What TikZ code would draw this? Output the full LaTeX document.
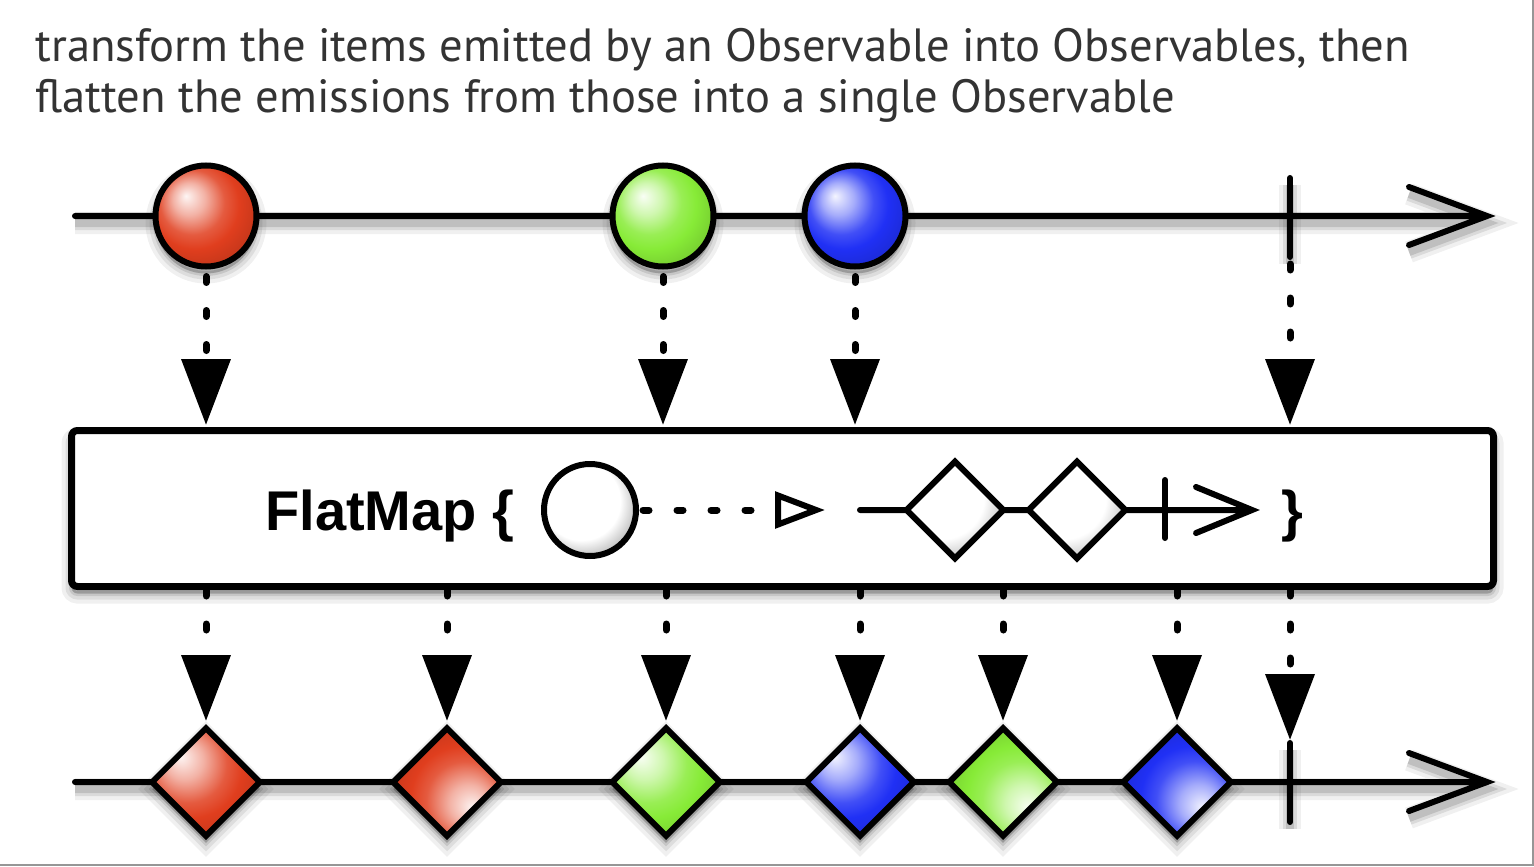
\documentclass[tikz,border=0pt]{standalone}
\usepackage{fontspec}
\setmainfont{PT Sans}
\newfontfamily\boldsans{Liberation Sans}
\usetikzlibrary{arrows.meta,shapes.geometric,calc}

\definecolor{ired}{RGB}{224,62,30}
\definecolor{igreen}{RGB}{135,235,55}
\definecolor{iblue}{RGB}{32,48,245}
\definecolor{ttext}{RGB}{51,51,51}
\definecolor{frame}{RGB}{150,150,150}
\colorlet{itemc}{red}

\pgfdeclareradialshading[itemc]{ballhl}{\pgfpoint{-10bp}{10bp}}{color(0bp)=(itemc!5!white); color(8bp)=(itemc!40!white); color(16bp)=(itemc!85!white); color(22bp)=(itemc); color(30bp)=(itemc!88!black); color(38bp)=(itemc!62!black); color(50bp)=(itemc!62!black)}
\pgfdeclareradialshading[itemc]{diahlTL}{\pgfpoint{-12bp}{12bp}}{color(0bp)=(itemc!5!white); color(9bp)=(itemc!40!white); color(18bp)=(itemc!85!white); color(24bp)=(itemc); color(33bp)=(itemc!88!black); color(40bp)=(itemc!62!black); color(60bp)=(itemc!62!black)}
\pgfdeclareradialshading[itemc]{diahlBR}{\pgfpoint{12bp}{-12bp}}{color(0bp)=(itemc!5!white); color(9bp)=(itemc!40!white); color(18bp)=(itemc!85!white); color(24bp)=(itemc); color(33bp)=(itemc!88!black); color(40bp)=(itemc!62!black); color(60bp)=(itemc!62!black)}
\pgfdeclareradialshading{grayball}{\pgfpoint{-8bp}{8bp}}{color(0bp)=(white); color(21bp)=(white); color(30bp)=(black!28); color(36bp)=(black!50); color(50bp)=(black!50)}
\pgfdeclareradialshading{graydia}{\pgfpoint{-11bp}{11bp}}{color(0bp)=(white); color(22bp)=(white); color(30bp)=(black!20); color(36bp)=(black!45); color(60bp)=(black!45)}

\tikzset{
  itemcol/.code={\colorlet{itemc}{#1}},
  thick line/.style={line width=3pt, line cap=round, line join=miter},
  lshad/.style={
    preaction={draw=black, draw opacity=0.06, line width=11pt, transform canvas={yshift=-3.5pt}},
    preaction={draw=black, draw opacity=0.09, line width=7pt, transform canvas={yshift=-3.5pt}},
    preaction={draw=black, draw opacity=0.12, line width=4pt, transform canvas={yshift=-3.5pt}}},
  nshad/.style={
    preaction={fill=black, fill opacity=0.06, draw=black, draw opacity=0.06, line width=10pt, transform canvas={yshift=-3.5pt}},
    preaction={fill=black, fill opacity=0.08, draw=black, draw opacity=0.08, line width=6pt, transform canvas={yshift=-3.5pt}},
    preaction={fill=black, fill opacity=0.1, draw=black, draw opacity=0.1, line width=2.5pt, transform canvas={yshift=-3.5pt}}},
  ball/.style={circle, draw, line width=3pt, minimum size=50.5pt, inner sep=0pt,
    shade, shading=ballhl, itemcol=#1, nshad},
  diamTL/.style={diamond, aspect=1, draw, line width=3pt, minimum size=55pt, inner sep=0pt,
    shade, shading=diahlTL, itemcol=#1, nshad},
  diamBR/.style={diamond, aspect=1, draw, line width=3pt, minimum size=55pt, inner sep=0pt,
    shade, shading=diahlBR, itemcol=#1, nshad},
  innerdia/.style={diamond, aspect=1, draw, line width=3pt, minimum size=49.7pt, inner sep=0pt,
    shade, shading=graydia},
  dotarr/.style={line width=3.5pt, line cap=round, dash pattern=on 3pt off 14pt,
    -{Triangle[length=33pt,width=24pt]}},
  titletext/.style={anchor=base west, inner sep=0pt, text=ttext, font=\fontsize{23.3pt}{27pt}\selectfont},
  boxtext/.style={anchor=base west, inner sep=0pt, font=\boldsans\bfseries\fontsize{28pt}{30pt}\selectfont},
}

\begin{document}
\begin{tikzpicture}[x=0.5pt, y=-0.5pt]
\useasboundingbox (0,0) rectangle (1534,866);
\draw[frame, line width=1pt] (1533,0) -- (1533,865) -- (0,865);

% title
\node[titletext] (title1) at (35,62) {transform the items emitted by an Observable into Observables, then};
\node[titletext] (title2) at (35,113) {flatten the emissions from those into a single Observable};

% coordinates
\coordinate (tA) at (75,216);
\coordinate (tB) at (1487,216);
\coordinate (k1a) at (1290,178);
\coordinate (k1b) at (1290,257);
\coordinate (bA) at (75,782);
\coordinate (bB) at (1487,782);
\coordinate (k2a) at (1290,743);
\coordinate (k2b) at (1290,822);
\coordinate (k2tip) at (1290,740);

% top timeline
\draw[thick line, lshad] (tA) -- (tB) ++(-78,-29) -- (tB) -- ++(-78,29);
\draw[thick line, lshad] (k1a) -- (k1b);

\node[ball=ired] (c1) at (206,216) {};
\node[ball=igreen] (c2) at (663,216) {};
\node[ball=iblue] (c3) at (855,216) {};

% box
\node[draw, fill=white, line width=3.5pt, rounded corners=3pt, minimum width=711pt, minimum height=78pt,
  inner sep=0pt, nshad] (box) at (782.5,508.5) {};

% box content
\node[boxtext] (fm) at (265,530) {FlatMap \{};
\node[circle, draw, line width=3pt, minimum size=46pt, inner sep=0pt, shade, shading=grayball] (sc) at (590,510) {};
\coordinate (stip) at (825,510);
\draw[line width=3.5pt, line cap=round, dash pattern=on 3pt off 14pt, dash phase=15pt,
  -{Triangle[open,length=25pt,width=18pt,line width=3pt]}] (sc.east) -- (stip);
\coordinate (iA) at (860,510);
\coordinate (iB) at (1252,510);
\draw[thick line] (iA) -- (iB) ++(-56,-23) -- (iB) -- ++(-56,23);
\coordinate (ik1) at (1165,480);
\coordinate (ik2) at (1165,538);
\draw[thick line] (ik1) -- (ik2);
\node[innerdia] (sd1) at (955,510) {};
\node[innerdia] (sd2) at (1077,510) {};
\node[boxtext] (cb) at (1281,530) {\}};

% bottom timeline
\draw[thick line, lshad] (bA) -- (bB) ++(-78,-29) -- (bB) -- ++(-78,29);
\draw[thick line, lshad] (k2a) -- (k2b);

\node[diamTL=ired] (d1) at (206,782) {};
\node[diamBR=ired] (d2) at (447,782) {};
\node[diamTL=igreen] (d3) at (666,782) {};
\node[diamTL=iblue] (d4) at (860,782) {};
\node[diamBR=igreen] (d5) at (1003,782) {};
\node[diamBR=iblue] (d6) at (1177,782) {};

% dotted arrows top
\foreach \n in {c1,c2,c3}{
  \draw[dotarr, dash phase=13.5pt] (\n.south) -- ($(\n |- box.north)+(0,-2)$);
}
\draw[dotarr, dash phase=13.5pt] (k1b) -- ($(k1b |- box.north)+(0,-2)$);

% dotted arrows bottom
\foreach \n in {d1,d2,d3,d4,d5,d6}{
  \draw[dotarr] ($(\n |- box.south)$) -- ($(\n.north)+(0,-3)$);
}
\draw[dotarr] ($(k2tip |- box.south)$) -- (k2tip);
\end{tikzpicture}
\end{document}
